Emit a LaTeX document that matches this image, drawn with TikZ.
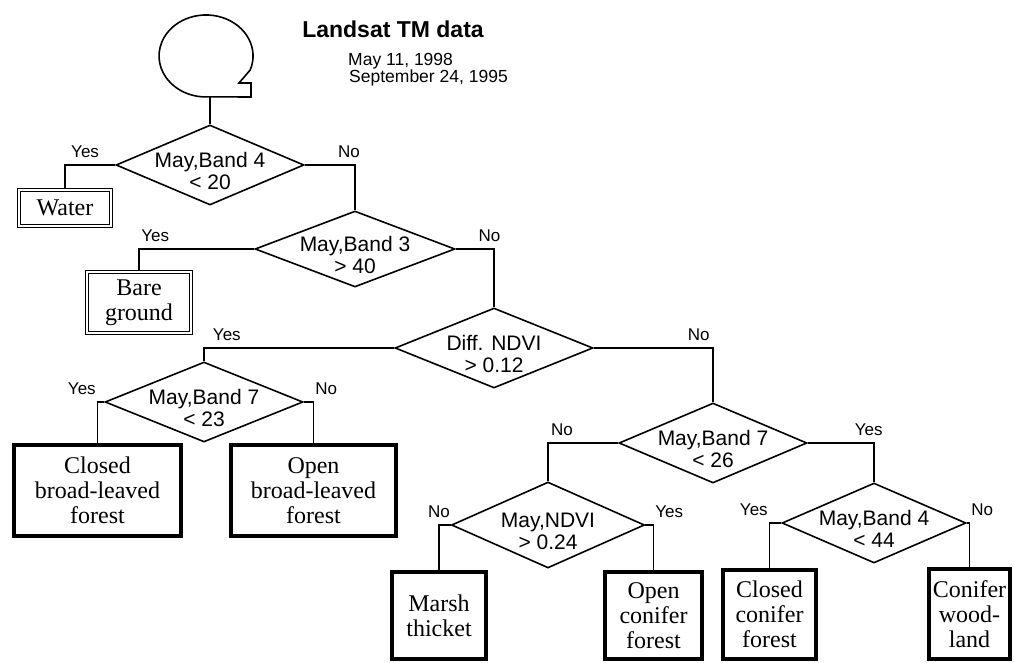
\documentclass[tikz,border=0pt]{standalone}
\usepackage{fontspec}
\setmainfont{Liberation Serif}
\setsansfont{Liberation Sans}
\usetikzlibrary{shapes.geometric}

\begin{document}
\begin{tikzpicture} [x=1pt,y=-1pt,
			test/.style={diamond,draw,line width=1.6pt,inner sep=0pt,minimum width=188pt,minimum height=80pt},
			test text/.style={font=\sffamily\fontsize{21}{22}\selectfont,align=center,yshift=-6pt},
			class/.style={draw,line width=4pt,inner sep=0pt,align=center,font=\fontsize{24}{25}\selectfont},
			start class/.style={class,line width=1.1pt,double,double distance=2pt},
			answer/.style={font=\sffamily\fontsize{17}{17}\selectfont,inner sep=1pt,anchor=south,yshift=6pt},
			data/.style={font=\sffamily\fontsize{17.5}{17.5}\selectfont,inner sep=0pt,anchor=base west},
			branch/.style={line width=1.6pt}]
			\useasboundingbox (0,0) rectangle (1014,663);

			\draw[branch] (250.2,70) arc[start angle=20,end angle=-265,x radius=47,y radius=41] -- (251,97) -- (251,83) -- (239,83) -- cycle;
			\coordinate (root) at (210,97);
			\node[font=\sffamily\bfseries\fontsize{23}{24}\selectfont,inner sep=0pt,anchor=base] (title) at (393,37.5) {Landsat TM data};
			\node[data] (may) at (348,66) {May 11, 1998};
			\node[data] (sep) at (349,83) {September 24, 1995};

			\node[test] (d1) at (210,165) [label={[test text]center:{May,Band 4\\< 20}}] {};
			\node[test,minimum width=200pt,minimum height=76pt] (d2) at (355,249) [label={[test text]center:{May,Band 3\\> 40}}] {};
			\node[test,minimum width=198pt] (d3) at (494,348) [label={[test text]center:{Diff. NDVI\\> 0.12}}] {};
			\node[test,minimum width=198pt] (d5) at (204,402) [label={[test text]center:{May,Band 7\\< 23}}] {};
			\node[test] (d4) at (713,443) [label={[test text]center:{May,Band 7\\< 26}}] {};
			\node[test,minimum width=193pt,minimum height=86pt] (d6) at (548,525) [label={[test text]center:{May,NDVI\\> 0.24}}] {};
			\node[test,minimum width=184pt] (d7) at (874,523) [label={[test text]center:{May,Band 4\\< 44}}] {};

			\node[start class,minimum width=92pt,minimum height=36pt] (water) at (65,208) {Water};
			\node[start class,minimum width=104pt,minimum height=61pt] (bare) at (139,302.5) {Bare\\ground};
			\node[class,minimum width=167pt,minimum height=91pt] (cbl) at (97.5,490.5) {Closed\\broad-leaved\\forest};
			\node[class,minimum width=165pt,minimum height=91pt] (obl) at (313.5,490.5) {Open\\broad-leaved\\forest};
			\node[class,minimum width=94pt,minimum height=87pt] (marsh) at (439,615.5) {Marsh\\thicket};
			\node[class,minimum width=97pt,minimum height=87pt] (ocf) at (653.5,615.5) {Open\\conifer\\forest};
			\node[class,minimum width=93pt,minimum height=89pt] (ccf) at (769.5,614.5) {Closed\\conifer\\forest};
			\node[class,minimum width=81pt,minimum height=90pt] (cwl) at (969.5,614) {Conifer\\wood-\\land};

			\draw[branch] (root) -- (d1);
			\draw[branch] (d1.west) -| node[answer,pos=.3] (y1) {Yes} (water);
			\draw[branch] (d1.east) -| node[answer,pos=.44] (n1) {No} (d2);
			\draw[branch] (d2.west) -| node[answer,pos=.43] (y2) {Yes} (bare);
			\draw[branch] (d2.east) -| node[answer,pos=.44] (n2) {No} (d3);
			\draw[branch] (d3.west) -| node[answer,pos=.44] (y3) {Yes} (d5);
			\draw[branch] (d3.east) -| node[answer,pos=.44] (n3) {No} (d4);
			\draw[branch] (d5.west) -| node[answer,pos=.5,anchor=south east] (y5) {Yes} (cbl);
			\draw[branch] (d5.east) -| node[answer,pos=.5,anchor=south west] (n5) {No} (obl);
			\draw[branch] (d4.west) -| node[answer,pos=.4] (n4) {No} (d6);
			\draw[branch] (d4.east) -| node[answer,pos=.46] (y4) {Yes} (d7);
			\draw[branch] (d6.west) -| node[answer,pos=.5] (n6) {No} (marsh);
			\draw[branch] (d6.east) -| node[answer,pos=.5,anchor=south west] (y6) {Yes} (ocf);
			\draw[branch] (d7.west) -| node[answer,pos=.5,anchor=south east] (y7) {Yes} (ccf);
			\draw[branch] (d7.east) -| node[answer,pos=.5,anchor=south west] (n7) {No} (cwl);
		\end{tikzpicture}
\end{document}
